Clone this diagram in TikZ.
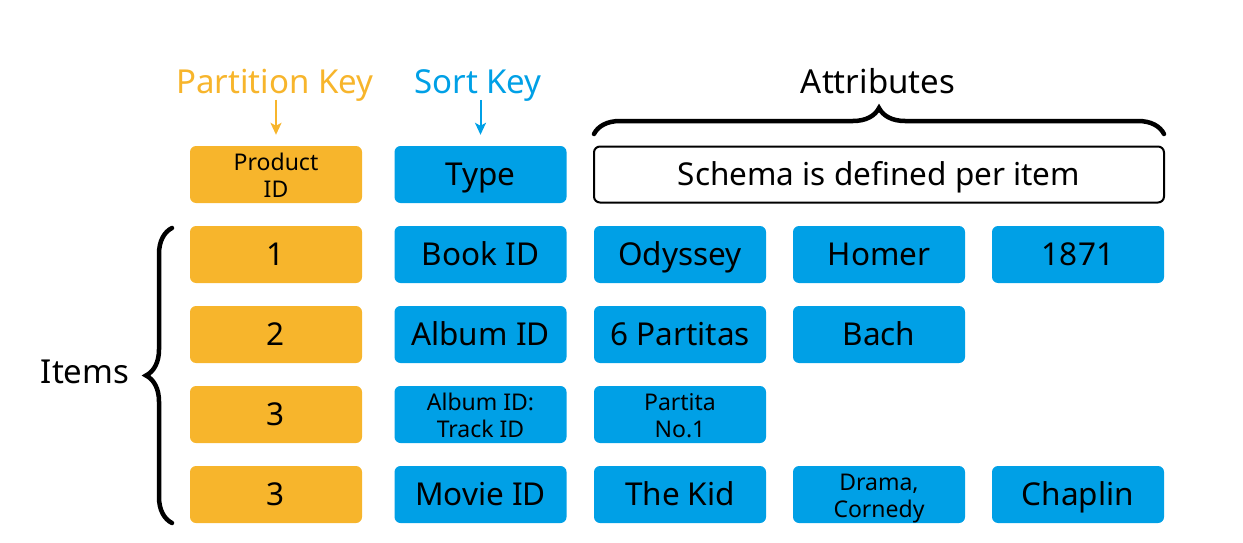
\documentclass[tikz,border=0pt]{standalone}
\usepackage{fontspec}
\setmainfont{Noto Sans}
\usetikzlibrary{decorations.pathreplacing,arrows.meta}
\definecolor{keyorange}{RGB}{247,181,44}
\definecolor{keyblue}{RGB}{0,160,230}
\newcommand\headtxt{\fontsize{33}{40}\selectfont}
\newcommand\bigtxt{\fontsize{31.5}{38}\selectfont}
\newcommand\smalltxt{\fontsize{23}{27}\selectfont}
\begin{document}
\begin{tikzpicture}[x=1pt,y=-1pt,
  cell/.style={rounded corners=6pt, minimum width=172pt, minimum height=57pt,
    inner sep=0pt, align=center, font=\bigtxt, text=black,
    text height=22.5pt, text depth=0pt},
  pkcell/.style={cell, fill=keyorange},
  skcell/.style={cell, fill=keyblue},
  small/.style={font=\smalltxt, text height=45pt, text depth=0pt},
  heading/.style={font=\headtxt, inner sep=0pt, anchor=base},
  keyarrow/.style={line width=2pt, -{Stealth[length=12pt,width=11pt,inset=3pt]}},
  bracket/.style={line width=4.5pt, line cap=round, decorate,
    decoration={brace, amplitude=26pt}}
]
\useasboundingbox (0,0) rectangle (1243,543);

% column headings
\node[heading, text=keyorange] (pklabel) at (275,93) {Partition Key};
\node[heading, text=keyblue]   (sklabel) at (478,93) {Sort Key};
\node[heading]                 (attrlabel) at (878,93) {Attributes};
\node[heading]                 (itemslabel) at (85,383) {Items};

% header row
\node[pkcell, small] (h1) at (276,174.5) {Product\\ID};
\node[skcell]        (h2) at (480.5,174.5) {Type};
\node[cell, draw=black, line width=2pt, minimum width=570pt, minimum height=56pt]
  (h3) at (879,174.5) {Schema is defined per item};

% item rows
\node[pkcell] (a1) at (276,254.5) {1};
\node[skcell] (a2) at (480.5,254.5) {Book ID};
\node[skcell] (a3) at (680,254.5) {Odyssey};
\node[skcell] (a4) at (879,254.5) {Homer};
\node[skcell] (a5) at (1078,254.5) {1871};

\node[pkcell] (b1) at (276,334.5) {2};
\node[skcell] (b2) at (480.5,334.5) {Album ID};
\node[skcell] (b3) at (680,334.5) {6 Partitas};
\node[skcell] (b4) at (879,334.5) {Bach};

\node[pkcell] (c1) at (276,414.5) {3};
\node[skcell, small] (c2) at (480.5,414.5) {Album ID:\\Track ID};
\node[skcell, small] (c3) at (680,414.5) {Partita\\No.1};

\node[pkcell] (d1) at (276,494.5) {3};
\node[skcell] (d2) at (480.5,494.5) {Movie ID};
\node[skcell] (d3) at (680,494.5) {The Kid};
\node[skcell, small] (d4) at (879,494.5) {Drama,\\Cornedy};
\node[skcell] (d5) at (1078,494.5) {Chaplin};

% key arrows
\coordinate (pkstart) at (276,100);
\coordinate (skstart) at (480.5,100);
\draw[keyarrow, draw=keyorange, fill=keyorange, shorten >=11pt] (pkstart) -- (h1.north);
\draw[keyarrow, draw=keyblue, fill=keyblue, shorten >=11pt] (skstart) -- (h2.north);

% braces
\coordinate (attrL) at (594,134);
\coordinate (attrR) at (1164,134);
\draw[bracket] (attrL) -- (attrR);
\coordinate (itemsB) at (172,523);
\coordinate (itemsT) at (172,228);
\draw[bracket] (itemsB) -- (itemsT);
\end{tikzpicture}
\end{document}
